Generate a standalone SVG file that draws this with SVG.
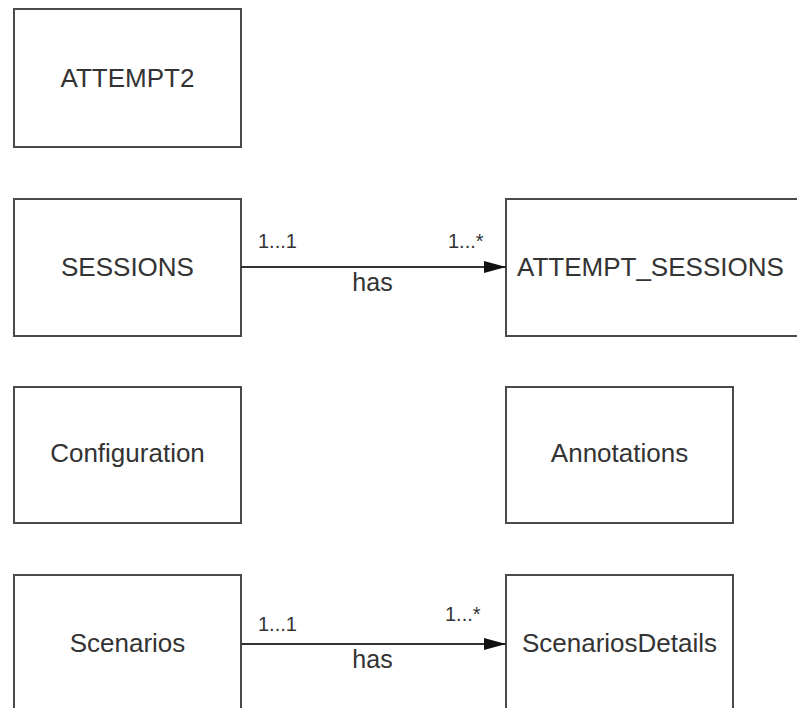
<svg xmlns="http://www.w3.org/2000/svg" width="797" height="708" viewBox="0 0 797 708">
<style>
.box{fill:#fff;stroke:#4a4a4a;stroke-width:2}
.name{font-family:"Liberation Sans",Arial,sans-serif;font-size:26px;fill:#333}
.mult{font-family:"Liberation Sans",Arial,sans-serif;font-size:20px;fill:#333}
.lbl{font-family:"Liberation Sans",Arial,sans-serif;font-size:25px;fill:#333;text-anchor:middle}
.edge{stroke:#333;stroke-width:2;fill:none}
</style>
<defs>
<marker id="arr" viewBox="0 0 22 12" refX="22" refY="6" markerWidth="22" markerHeight="12" markerUnits="userSpaceOnUse" orient="auto">
<path d="M0,0 L22,6 L0,12 Z" fill="#111"/>
</marker>
</defs>
<rect width="797" height="708" fill="#fff"/>
<g id="attempt2"><rect class="box" x="14" y="9" width="227" height="138"/><text class="name" x="127.5" y="87" text-anchor="middle">ATTEMPT2</text></g>
<g id="sessions"><rect class="box" x="14" y="199" width="227" height="137"/><text class="name" x="127.5" y="276" text-anchor="middle">SESSIONS</text></g>
<g id="attempt_sessions"><rect class="box" x="506" y="199" width="300" height="137"/><text class="name" x="517" y="276">ATTEMPT_SESSIONS</text></g>
<g id="configuration"><rect class="box" x="14" y="387" width="227" height="136"/><text class="name" x="127.5" y="462" text-anchor="middle">Configuration</text></g>
<g id="annotations"><rect class="box" x="506" y="387" width="227" height="136"/><text class="name" x="619.5" y="462" text-anchor="middle">Annotations</text></g>
<g id="scenarios"><rect class="box" x="14" y="575" width="227" height="140"/><text class="name" x="127.5" y="652" text-anchor="middle">Scenarios</text></g>
<g id="scenariosdetails"><rect class="box" x="506" y="575" width="227" height="140"/><text class="name" x="619.5" y="652" text-anchor="middle">ScenariosDetails</text></g>
<g id="connectors">
<line class="edge" x1="241" y1="267" x2="506" y2="267" marker-end="url(#arr)"/>
<text class="mult" x="258" y="248">1...1</text>
<text class="mult" x="448" y="248">1...*</text>
<text class="lbl" x="372.5" y="291">has</text>
<line class="edge" x1="241" y1="644" x2="506" y2="644" marker-end="url(#arr)"/>
<text class="mult" x="258" y="631">1...1</text>
<text class="mult" x="445" y="621">1...*</text>
<text class="lbl" x="372.5" y="668">has</text>
</g>
</svg>
